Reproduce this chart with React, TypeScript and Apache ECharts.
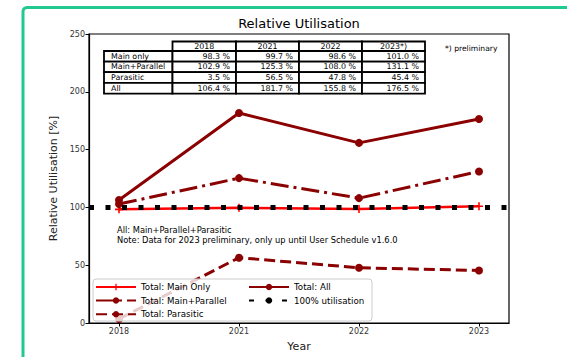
import React, { useEffect, useRef } from "react";
import * as echarts from "echarts";

const years = ["2018", "2021", "2022", "2023"];
const tableHeaders = ["2018", "2021", "2022", "2023*)"];
const rowLabels = ["Main only", "Main+Parallel", "Parasitic", "All"];
const mainOnly = [98.3, 99.7, 98.6, 101.0];
const mainParallel = [102.9, 125.3, 108.0, 131.1];
const parasitic = [3.5, 56.5, 47.8, 45.4];
const allUtil = [106.4, 181.7, 155.8, 176.5];
const referenceLevel = 100;
const noteLines = [
  "All: Main+Parallel+Parasitic",
  "Note: Data for 2023 preliminary, only up until User Schedule v1.6.0",
];

const FONT = "DejaVu Sans";
const DARK = "#8b0000";
const RED = "#ff0000";
const PLUS = "path://M3.2,0H4.8V3.2H8V4.8H4.8V8H3.2V4.8H0V3.2H3.2Z";

function buildTable(): any[] {
  const colX = [104, 172.5, 236, 299, 362, 425];
  const rowY = [41.5, 51, 61.6, 72.2, 82.8, 93.6];
  const rows = [mainOnly, mainParallel, parasitic, allUtil];
  const els: any[] = [];
  const fs = 7.9;
  for (let c = 0; c < 4; c++) {
    const x0 = colX[c + 1], x1 = colX[c + 2];
    els.push({ type: "rect", shape: { x: x0, y: rowY[0], width: x1 - x0, height: rowY[1] - rowY[0] }, style: { fill: "#fff", stroke: "#000", lineWidth: 1.8 }, z: 5 });
    els.push({ type: "text", x: (x0 + x1) / 2, y: (rowY[0] + rowY[1]) / 2, style: { text: tableHeaders[c], fill: "#000", font: `${fs}px ${FONT}`, align: "center", verticalAlign: "middle" }, z: 6 });
  }
  for (let r = 0; r < 4; r++) {
    const y0 = rowY[r + 1], y1 = rowY[r + 2];
    els.push({ type: "rect", shape: { x: colX[0], y: y0, width: colX[1] - colX[0], height: y1 - y0 }, style: { fill: "#fff", stroke: "#000", lineWidth: 1.8 }, z: 5 });
    els.push({ type: "text", x: colX[0] + 7, y: (y0 + y1) / 2, style: { text: rowLabels[r], fill: "#000", font: `${fs}px ${FONT}`, align: "left", verticalAlign: "middle" }, z: 6 });
    for (let c = 0; c < 4; c++) {
      const x0 = colX[c + 1], x1 = colX[c + 2];
      els.push({ type: "rect", shape: { x: x0, y: y0, width: x1 - x0, height: y1 - y0 }, style: { fill: "#fff", stroke: "#000", lineWidth: 1.8 }, z: 5 });
      els.push({ type: "text", x: x1 - 6, y: (y0 + y1) / 2, style: { text: rows[r][c].toFixed(1) + " %", fill: "#000", font: `${fs}px ${FONT}`, align: "right", verticalAlign: "middle" }, z: 6 });
    }
  }
  return els;
}

export default function App() {
  const ref = useRef<HTMLDivElement>(null);
  useEffect(() => {
    if (!ref.current) return;
    const chart = echarts.init(ref.current, undefined, { renderer: "svg" });
    const toPts = (arr: number[]) => arr.map((v, i) => [i, v]);
    const legendText = { fontSize: 8.7, color: "#000", fontFamily: FONT };
    chart.setOption({
      animation: false,
      backgroundColor: "#fff",
      textStyle: { fontFamily: FONT },
      title: {
        text: "Relative Utilisation",
        left: 299,
        textAlign: "center",
        top: 17,
        padding: 0,
        textStyle: { fontSize: 13, fontWeight: "normal", color: "#000", fontFamily: FONT },
      },
      grid: { left: 89, right: 58, top: 34, bottom: 31.5, show: true, borderColor: "#000", borderWidth: 1.2, backgroundColor: "transparent" },
      xAxis: {
        type: "value",
        min: -0.25,
        max: 3.25,
        name: "Year",
        nameLocation: "middle",
        nameGap: 18,
        nameTextStyle: { fontSize: 11, color: "#222", fontFamily: FONT },
        splitLine: { show: false },
        axisLine: { show: true, onZero: false, lineStyle: { color: "#000", width: 1.2 } },
        axisTick: { show: true, length: 3.5, customValues: [0, 1, 2, 3], lineStyle: { color: "#000" } },
        axisLabel: { customValues: [0, 1, 2, 3], formatter: (v: number) => years[v] ?? "", fontSize: 8, color: "#333", margin: 4, fontFamily: FONT },
      },
      yAxis: {
        type: "value",
        min: 0,
        max: 250,
        interval: 50,
        name: "Relative Utilisation [%]",
        nameLocation: "middle",
        nameGap: 20,
        nameTextStyle: { fontSize: 11, color: "#222", fontFamily: FONT },
        splitLine: { show: false },
        axisLine: { show: true, onZero: false, lineStyle: { color: "#000", width: 1.2 } },
        axisTick: { show: true, length: 3.5, lineStyle: { color: "#000" } },
        axisLabel: { fontSize: 8, color: "#333", margin: 4, fontFamily: FONT },
      },
      legend: [
        {
          data: ["Total: Main Only", "Total: Main+Parallel", "Total: Parasitic"],
          orient: "vertical",
          left: 92,
          top: 279.5,
          padding: 3,
          itemWidth: 40,
          itemHeight: 8,
          itemGap: 4.6,
          textStyle: legendText,
          selectedMode: false,
        },
        {
          data: ["Total: All", "100% utilisation"],
          orient: "vertical",
          left: 245,
          top: 279.5,
          padding: 3,
          itemWidth: 40,
          itemHeight: 8,
          itemGap: 4.6,
          textStyle: legendText,
          selectedMode: false,
        },
      ],
      graphic: [
        { type: "rect", shape: { x: 23, y: 7.5, width: 620, height: 420, r: 4 }, style: { fill: "none", stroke: "#22c891", lineWidth: 3 }, z: 10, silent: true },
        { type: "rect", shape: { x: 93, y: 279, width: 279, height: 42, r: 3 }, style: { fill: "rgba(255,255,255,0.8)", stroke: "#cccccc", lineWidth: 1 }, z: 3, silent: true },
        { type: "text", x: 445, y: 48, style: { text: "*) preliminary", fill: "#000", font: `7.6px ${FONT}`, align: "left", verticalAlign: "middle" }, z: 6 },
        ...noteLines.map((t, i) => ({ type: "text", x: 117, y: 230 + i * 10, style: { text: t, fill: "#000", font: `8.3px ${FONT}`, align: "left", verticalAlign: "middle" }, z: 6 })),
        ...buildTable(),
      ],
      series: [
        {
          name: "Total: Main Only",
          type: "line",
          data: toPts(mainOnly),
          symbol: PLUS,
          symbolSize: 8,
          lineStyle: { color: RED, width: 2.5 },
          itemStyle: { color: RED },
          z: 2,
        },
        {
          name: "Total: Main+Parallel",
          type: "line",
          data: toPts(mainParallel),
          symbol: "circle",
          symbolSize: 8,
          lineStyle: { color: DARK, width: 3, type: [18, 5, 3, 5] },
          itemStyle: { color: DARK },
          z: 2,
        },
        {
          name: "Total: Parasitic",
          type: "line",
          data: toPts(parasitic),
          symbol: "circle",
          symbolSize: 8,
          lineStyle: { color: DARK, width: 3, type: [11, 5] },
          itemStyle: { color: DARK },
          z: 2,
        },
        {
          name: "Total: All",
          type: "line",
          data: toPts(allUtil),
          symbol: "circle",
          symbolSize: 8,
          lineStyle: { color: DARK, width: 3 },
          itemStyle: { color: DARK },
          z: 2,
        },
        {
          name: "100% utilisation",
          type: "line",
          data: [],
          symbol: "none",
          lineStyle: { color: "#000", width: 5, type: [5, 11.5], cap: "butt" },
          itemStyle: { color: "#000" },
          z: 2,
          markLine: {
            silent: true,
            symbol: ["none", "none"],
            label: { show: false },
            lineStyle: { color: "#000", width: 5, type: [5, 11.5], cap: "butt" },
            data: [{ yAxis: referenceLevel }],
          },
        },
      ],
    });
    return () => chart.dispose();
  }, []);
  return <div ref={ref} style={{ position: "fixed", left: 0, top: 0, width: 567, height: 357 }} />;
}
